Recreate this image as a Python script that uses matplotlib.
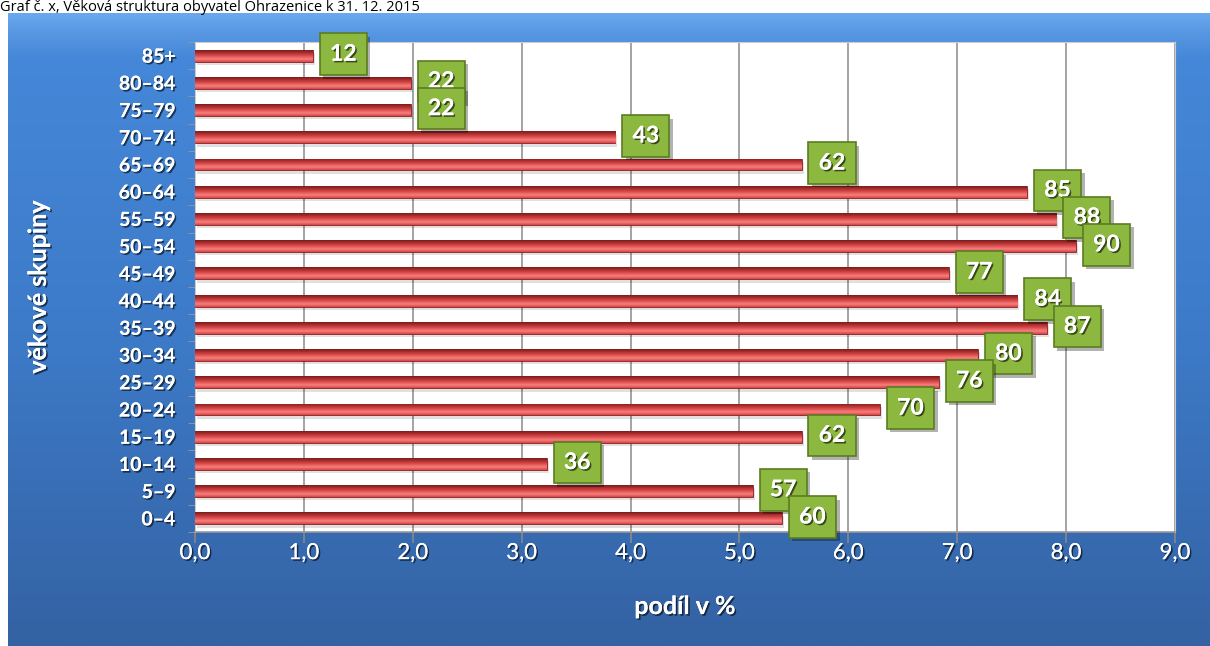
import numpy as np
import matplotlib
matplotlib.use('Agg')
import matplotlib.pyplot as plt
import matplotlib.patheffects as pe
from matplotlib.colors import LinearSegmentedColormap

plt.rcParams['font.family'] = ['Lato', 'DejaVu Sans']

groups = ['85+', '80–84', '75–79', '70–74', '65–69', '60–64', '55–59', '50–54',
          '45–49', '40–44', '35–39', '30–34', '25–29', '20–24', '15–19', '10–14',
          '5–9', '0–4']
share = [1.08, 1.98, 1.98, 3.86, 5.57, 7.64, 7.91, 8.09,
         6.92, 7.55, 7.82, 7.19, 6.83, 6.29, 5.57, 3.23, 5.12, 5.39]
counts = [12, 22, 22, 43, 62, 85, 88, 90, 77, 84, 87, 80, 76, 70, 62, 36, 57, 60]

W, H = 1210, 646
fig = plt.figure(figsize=(W / 100, H / 100), dpi=100)

# blue gradient frame
bg = fig.add_axes([8 / W, 0, 1 - 8 / W, (H - 13) / H])
bg.axis('off')
blue = LinearSegmentedColormap.from_list(
    'blue', [(0, '#3462a3'), (0.5, '#3d7bc9'), (0.93, '#4587d8'), (0.97, '#5797e2'), (1, '#6aa8ee')])
bg.imshow(np.linspace(0, 1, 256).reshape(-1, 1), aspect='auto', cmap=blue,
          origin='lower', extent=[0, 1, 0, 1])
bg.set_xlim(0, 1)
bg.set_ylim(0, 1)

fig.text(0.0, 1.0, 'Graf č. x, Věková struktura obyvatel Ohrazenice k 31. 12. 2015',
         ha='left', va='top', fontsize=10.5, color='black',
         family=['Open Sans', 'DejaVu Sans'], zorder=5)

ax = fig.add_axes([195 / W, (H - 532) / H, (1175 - 195) / W, (532 - 42) / H])
ax.set_facecolor('white')
y = np.arange(len(groups))

red = LinearSegmentedColormap.from_list('red', ['#7a1c1c', '#b03030', '#e05050', '#f68080', '#d84444'])
bh = 0.44
# shadow under the bars
ax.barh(y + 0.12, share, height=bh, left=0.02, color='#000000', alpha=0.12, zorder=2)
bars = ax.barh(y, share, height=bh, color='#d04040', edgecolor='#8a2020', linewidth=0.6, zorder=3)
for b in bars:
    x0, y0 = b.get_x(), b.get_y()
    im = ax.imshow(np.linspace(0, 1, 64).reshape(-1, 1), aspect='auto', cmap=red,
                   origin='upper', extent=[x0, x0 + b.get_width(), y0 + b.get_height(), y0],
                   zorder=3.5)
    im.set_clip_path(b)
ax.set_xlim(0, 9)
ax.set_ylim(len(groups) - 0.5, -0.5)

shadow = [pe.withSimplePatchShadow(offset=(1.2, -1.2), shadow_rgbFace='black', alpha=0.6), pe.Normal()]
box_shadow = [pe.SimplePatchShadow(offset=(2.5, -2.5), shadow_rgbFace='black', alpha=0.3), pe.Normal()]

for yi, v, c in zip(y, share, counts):
    ann = ax.annotate(str(c), xy=(v, yi), xytext=(22, 1), textcoords='offset points',
                      ha='center', va='center', fontsize=16.5, fontweight='bold', color='white',
                      path_effects=shadow, zorder=6, annotation_clip=False,
                      bbox=dict(boxstyle='square,pad=0.45', fc='#8db83f', ec='#5a7d20', lw=1.2))
    ann.get_bbox_patch().set_path_effects(box_shadow)

ax.set_xticks(np.arange(0, 10, 1))
ax.set_xticklabels([f'{t:.1f}'.replace('.', ',') for t in np.arange(0, 10, 1)])
ax.set_yticks(y)
ax.set_yticklabels(groups)
ax.set_yticks(np.arange(-0.5, len(groups), 1), minor=True)
ax.tick_params(axis='y', which='major', length=0, pad=14)
ax.tick_params(axis='y', which='minor', length=5, color='#999999')
ax.tick_params(axis='x', length=8, color='#888888', width=1.2, pad=0)
ax.grid(axis='x', color='#8a8a8a', lw=1.1, zorder=1)
ax.set_axisbelow(True)
for s in ['top', 'right', 'left']:
    ax.spines[s].set_color('#cccccc')
ax.spines['bottom'].set_color('#999999')
ax.spines['bottom'].set_linewidth(1.2)

for lab in ax.get_xticklabels():
    lab.set_fontsize(16)
    lab.set_color('white')
    lab.set_path_effects(shadow)
for lab in ax.get_yticklabels():
    lab.set_fontsize(14)
    lab.set_fontweight('bold')
    lab.set_color('white')
    lab.set_path_effects(shadow)

ax.set_xlabel('podíl v %', fontsize=18, fontweight='bold', color='white',
              labelpad=23, path_effects=shadow)
ax.set_ylabel('věkové skupiny', fontsize=18, fontweight='bold', color='white',
              path_effects=shadow)
ax.yaxis.set_label_coords(-0.148, 0.5)

fig.savefig('out.png', dpi=100)
